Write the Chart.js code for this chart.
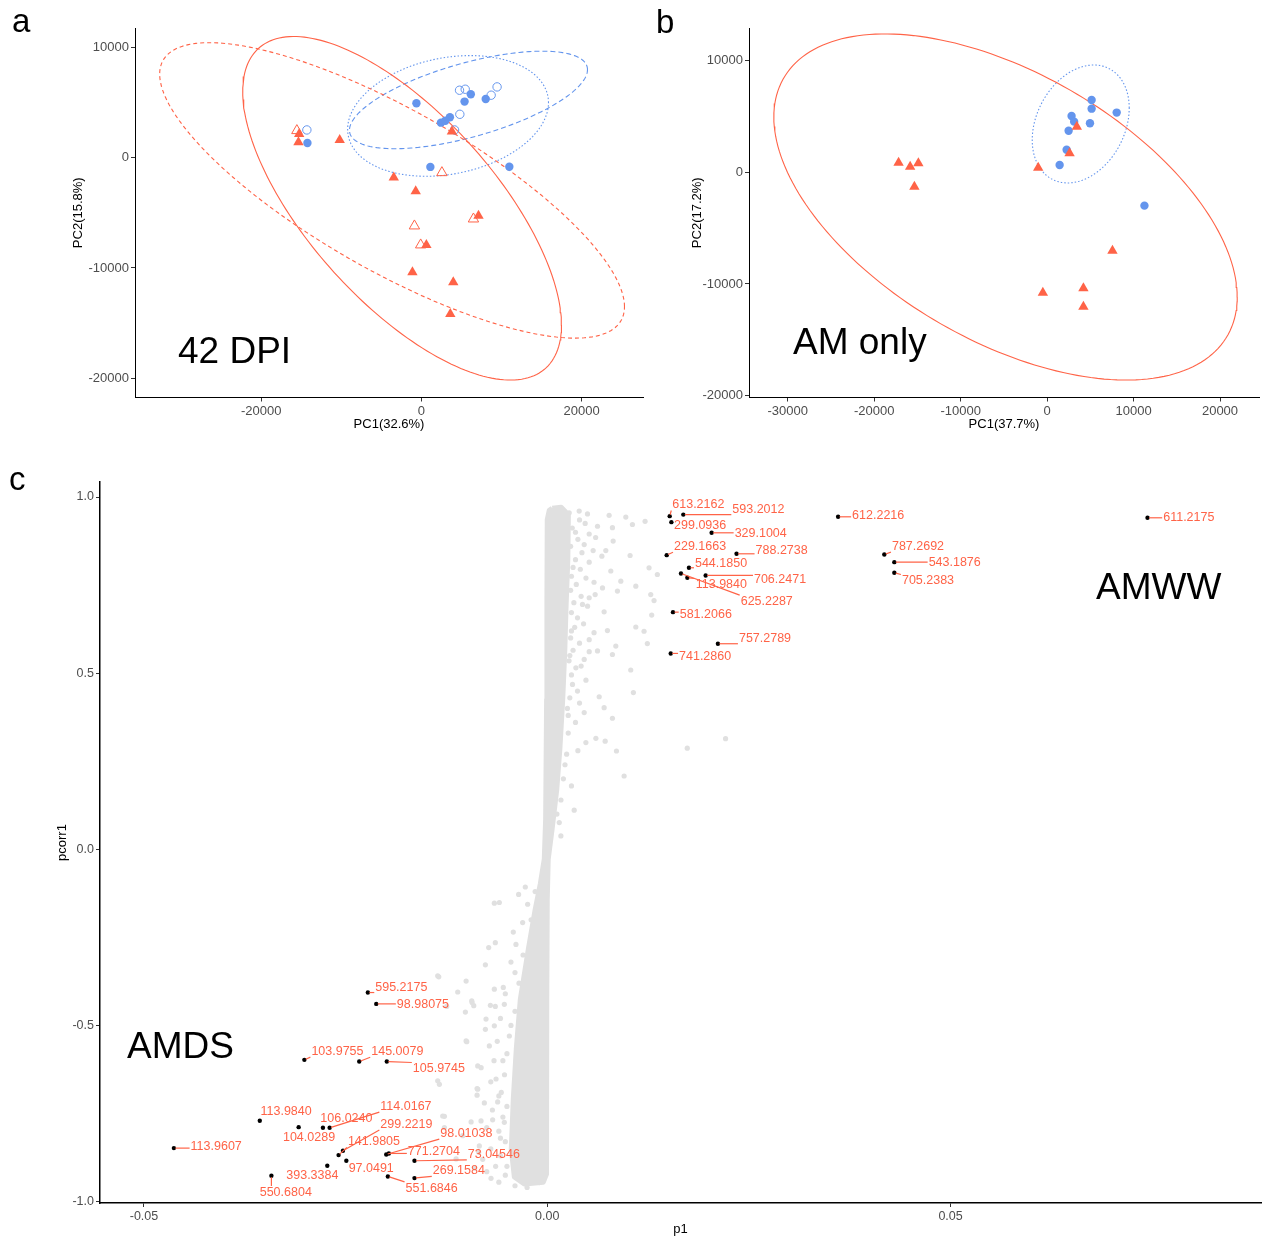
<!DOCTYPE html>
<html>
<head>
<meta charset="utf-8">
<script src="https://cdn.jsdelivr.net/npm/chart.js@4.4.1/dist/chart.umd.min.js"></script>
<style>
  html, body { margin: 0; padding: 0; background: #fff; }
  body { width: 1265px; height: 1236px; position: relative; overflow: hidden;
         font-family: "Liberation Sans", Arial, Helvetica, sans-serif; }
  canvas { position: absolute; }
  .tag  { position: absolute; font-size: 33px; line-height: 1; color: #000; }
  .note { position: absolute; font-size: 37px; line-height: 1; color: #000; white-space: nowrap; }
</style>
</head>
<body>
<canvas id="pa" width="650" height="440" style="left:0;top:0"></canvas>
<canvas id="pb" width="615" height="440" style="left:650px;top:0"></canvas>
<canvas id="pc" width="1265" height="776" style="left:0;top:460px"></canvas>

<div class="tag" style="left:12px;top:4px">a</div>
<div class="tag" style="left:656px;top:5px">b</div>
<div class="tag" style="left:9px;top:462px">c</div>
<div class="note" style="left:178px;top:332px">42 DPI</div>
<div class="note" style="left:793px;top:323px">AM only</div>
<div class="note" style="left:1096px;top:568px">AMWW</div>
<div class="note" style="left:127px;top:1027px">AMDS</div>

<script>
// ---------- panel a: PCA scores, 42 DPI ----------
const pcaTicksA_x = [-20000, 0, 20000];
const pcaTicksA_y = [-20000, -10000, 0, 10000];
const a_blueFilled = [[-620,4930],[5390,5080],[6170,5750],[8030,5320],[3560,3660],[2440,3170],[2990,3350],[-14230,1330],[1120,-840],[10980,-820]];
const a_blueOpen   = [[4760,6110],[5470,6200],[9450,6410],[8710,5660],[4800,3930],[-14300,2510],[4140,2510]];
const a_redFilled  = [[-15260,2150],[-15350,1400],[-10200,1600],[3810,2360],[-3450,-1810],[-710,-3050],[7130,-5260],[620,-7910],[-1120,-10390],[3980,-11300],[3610,-14170]];
const a_redOpen    = [[-15550,2450],[2560,-1360],[6500,-5560],[-870,-6190],[-90,-7910]];
// ellipses: centre x, centre y, half-width x, half-height y, correlation
const a_ellRedSolid  = [-2410, -4590, 19900, 15570, -0.68];
const a_ellRedDash   = [-3660, -2970, 29020, 13390, -0.787];
const a_ellBlueDash  = [5880, 5230, 14860, 4420, 0.62];
const a_ellBlueDot   = [3330, 3780, 12540, 5470, 0.22];

// ---------- panel b: PCA scores, AM only ----------
const pcaTicksB_x = [-30000, -20000, -10000, 0, 10000, 20000];
const pcaTicksB_y = [-20000, -10000, 0, 10000];
const b_blue = [[5150,6470],[5150,5690],[8050,5340],[2830,5040],[3130,4530],[4960,4390],[2490,3720],[2260,2020],[1450,650],[11260,-2990]];
const b_red  = [[3440,4080],[2600,1700],[-1030,410],[-17180,860],[-15840,500],[-14890,810],[-15350,-1290],[7560,-7020],[-490,-10780],[4200,-10380],[4200,-12030]];
const b_ellRed  = [-4810, -3110, 26800, 15490, -0.52];
const b_ellBlue = [3890, 4320, 5610, 5280, 0.27];

// ---------- panel c: S-plot (p1 vs pcorr1) ----------
const splotTicks_x = [-0.05, 0, 0.05];
const splotTicks_y = [-1, -0.5, 0, 0.5, 1];
// dense body of the S-plot, traced as an outline
const cloudCore = [[0.00062,0.968],[0.00173,0.971],[0.00262,0.950],[0.00255,0.823],[0.00232,0.681],[0.00218,0.567],
  [0.00192,0.426],[0.00156,0.284],[0.00118,0.170],[0.00060,0.057],[0.00012,-0.028],[0.0,-0.142],[-0.00006,-0.426],
  [-0.00006,-0.709],[-0.00012,-0.922],[-0.0005,-0.945],[-0.00285,-0.950],[-0.00408,-0.930],[-0.00446,-0.851],
  [-0.00421,-0.709],[-0.00384,-0.567],[-0.00334,-0.426],[-0.00235,-0.284],[-0.00149,-0.170],[-0.00087,-0.099],
  [-0.00037,-0.028],[-0.00020,0.085],[-0.00008,0.426],[-0.00004,0.709],[0.0,0.936],[0.00025,0.962],[0.00062,0.968]];
// scattered features outside the dense body
const cloudUpper = [[0.00272,0.955],[0.00396,0.960],[0.00499,0.952],[0.00767,0.948],[0.00974,0.943],[0.01213,0.931],
  [0.01056,0.922],[0.00623,0.917],[0.00808,0.913],[0.00817,0.875],[0.00569,0.848],[0.00726,0.848],[0.01027,0.834],
  [0.00458,0.865],[0.00677,0.832],[0.01262,0.799],[0.01365,0.780],[0.00788,0.790],[0.00912,0.761],[0.01098,0.747],
  [0.00870,0.733],[0.01283,0.723],[0.01324,0.706],[0.00685,0.742],[0.00594,0.723],[0.00705,0.674],[0.01295,0.665],
  [0.01098,0.631],[0.01200,0.619],[0.00746,0.621],[0.01241,0.584],[0.00850,0.577],[0.00623,0.563],[0.00808,0.553],
  [0.01035,0.509],[0.01068,0.445],[0.00644,0.433],[0.00705,0.402],[0.00808,0.372],[0.00458,0.388],[0.00479,0.303],
  [0.00603,0.315],[0.00718,0.307],[0.00858,0.279],[0.00953,0.208],[0.01736,0.287],[0.02211,0.314],[0.00520,0.714],
  [0.00437,0.695],[0.00375,0.657],[0.00520,0.561],[0.00458,0.539],[0.00313,0.468],[0.00375,0.449],[0.00355,0.515],
  [0.0035,0.900],[0.0032,0.800],[0.0030,0.620],[0.0028,0.550],[0.0026,0.380],[0.0022,0.240],
  [0.0040,0.935],[0.0047,0.925],[0.0031,0.912],[0.0052,0.895],[0.0038,0.880],[0.0060,0.885],[0.0029,0.860],
  [0.0043,0.842],[0.0035,0.822],[0.0052,0.815],[0.0041,0.795],[0.0030,0.775],[0.0048,0.770],[0.0036,0.752],
  [0.0058,0.758],[0.0029,0.735],[0.0042,0.718],[0.0033,0.700],[0.0050,0.690],[0.0030,0.672],[0.0045,0.640],
  [0.0034,0.630],[0.0058,0.615],[0.0029,0.600],[0.0040,0.585],[0.0052,0.595],[0.0032,0.565],[0.0027,0.535],
  [0.0042,0.520],[0.0030,0.495],[0.0048,0.480],[0.0028,0.430],[0.0040,0.415],[0.0025,0.400],[0.0035,0.360],
  [0.0026,0.330],[0.0038,0.280],[0.0024,0.270],[0.0020,0.200],[0.0030,0.180],[0.0017,0.140],[0.0012,0.100]];
const cloudLower = [[0.00334,0.111],[0.00149,0.076],[0.00169,0.038],[-0.00272,-0.107],[-0.00355,-0.128],[-0.00656,-0.153],
  [-0.00594,-0.151],[-0.00243,-0.156],[-0.00305,-0.208],[-0.00421,-0.235],[-0.00644,-0.265],[-0.00726,-0.279],
  [-0.00388,-0.270],[-0.00767,-0.328],[-0.01345,-0.362],[-0.01006,-0.374],[-0.01110,-0.405],[-0.00936,-0.430],
  [-0.00911,-0.444],[-0.01015,-0.462],[-0.01246,-0.446],[-0.00705,-0.443],[-0.00644,-0.446],[-0.00532,-0.440],
  [-0.00656,-0.397],[-0.00545,-0.392],[-0.00759,-0.482],[-0.00767,-0.511],[-0.00656,-0.501],[-0.00998,-0.546],
  [-0.00718,-0.558],[-0.00862,-0.615],[-0.01358,-0.657],[-0.01337,-0.667],[-0.00870,-0.679],[-0.00635,-0.652],
  [-0.00870,-0.698],[-0.00615,-0.717],[-0.01275,-0.758],[-0.00944,-0.774],[-0.00821,-0.771],[-0.00677,-0.768],
  [-0.01130,-0.879],[-0.00697,-0.934],[-0.00099,-0.946],[-0.00532,-0.775],[-0.01048,-0.813],[-0.00842,-0.842],
  [-0.01358,-0.359],[-0.00932,-0.435],[-0.01006,-0.544],[-0.00862,-0.681],[-0.01296,-0.757],[-0.01275,-0.790],
  [-0.0055,-0.600],[-0.0060,-0.700],[-0.0058,-0.820],[-0.0050,-0.900],[-0.0045,-0.500],[-0.0040,-0.350],
  [-0.0030,-0.300],[-0.0045,-0.320],[-0.0035,-0.380],[-0.0052,-0.410],[-0.0040,-0.460],[-0.0058,-0.480],
  [-0.0047,-0.530],[-0.0062,-0.545],[-0.0050,-0.580],[-0.0066,-0.600],[-0.0053,-0.640],[-0.0070,-0.660],
  [-0.0057,-0.690],[-0.0050,-0.730],[-0.0068,-0.740],[-0.0055,-0.760],[-0.0075,-0.790],[-0.0060,-0.800],
  [-0.0052,-0.830],[-0.0070,-0.850],[-0.0058,-0.870],[-0.0080,-0.880],[-0.0064,-0.900],[-0.0052,-0.925],
  [-0.0075,-0.915],[-0.0060,-0.945],[-0.0040,-0.955],[-0.0025,-0.960],[-0.0090,-0.905],[-0.0085,-0.860],
  [-0.0078,-0.720],[-0.0082,-0.620],[-0.0020,-0.200],[-0.0015,-0.120]];
// annotated features: m/z, p1, pcorr1
const featureNames = ['613.2162','593.2012','299.0936','329.1004','229.1663','788.2738','544.1850','625.2287','113.9840',
  '706.2471','581.2066','757.2789','741.2860','612.2216','787.2692','543.1876','705.2383','611.2175',
  '595.2175','98.98075','103.9755','145.0079','105.9745','113.9840','104.0289','106.0240','114.0167','299.2219',
  '141.9805','98.01038','771.2704','73.04546','97.0491','393.3384','550.6804','551.6846','269.1584','113.9607'];
const featureP1 = [0.01518,0.01687,0.01539,0.02038,0.01481,0.02347,0.01757,0.01658,0.01737,
  0.01964,0.01559,0.02116,0.01531,0.03606,0.04179,0.04303,0.04303,0.07442,
  -0.02224,-0.02120,-0.03011,-0.02331,-0.01989,-0.03564,-0.03082,-0.02781,-0.02698,-0.02533,
  -0.02587,-0.01996,-0.01964,-0.01646,-0.02491,-0.02727,-0.03420,-0.01976,-0.01646,-0.04629];
const featurePcorr = [0.9456,0.9500,0.9286,0.8984,0.8349,0.8388,0.7991,0.7830,0.7707,
  0.7773,0.6732,0.5835,0.5560,0.9438,0.8369,0.8151,0.7849,0.9410,
  -0.4066,-0.4388,-0.5977,-0.6023,-0.6023,-0.7707,-0.7887,-0.7905,-0.7905,-0.8558,
  -0.8681,-0.8662,-0.8633,-0.8842,-0.8842,-0.8983,-0.9267,-0.9286,-0.9333,-0.8482];
// repelled label placement (pixel offset of each label's left-middle from its point)
const labelNudge = [[2.6,-11.7],[49,-5.7],[2.7,3],[23,0],[7.3,-9],[19,-3.3],[6,-4.6],[59.7,27.7],[8.4,6.7],
  [48.3,4],[6.7,2.3],[21,-5.3],[8.3,2.7],[14,-1.3],[7.6,-8.3],[34.3,0.3],[7.6,7.7],[15.7,-1],
  [7.4,-5],[20.6,0.3],[7,-8.7],[12,-10.3],[26,7],[0.7,-9.7],[-15.7,10],[-2.6,-9.7],[50.7,-21.7],[37.4,-26.7],
  [9.3,-13.7],[54,-21.3],[19,-2.3],[53.3,-7],[2.3,7],[-41,9.3],[-11.7,16.3],[17.7,11.4],[18.3,-7.7],[16.7,-2]];

// ---------- drawing ----------
const FONT = '"Liberation Sans", Arial, Helvetica, sans-serif';
const RED = '#FF6347', BLUE = '#6495ED', GREY = '#E0E0E0';

const toXY = arr => arr.map(p => ({ x: p[0], y: p[1] }));

function ellipsePath(e) {
  const pts = [], n = 200, s = Math.sqrt(1 - e[4] * e[4]);
  for (let i = 0; i <= n; i++) {
    const t = i / n * 2 * Math.PI;
    pts.push({ x: e[0] + e[2] * Math.cos(t), y: e[1] + e[3] * (e[4] * Math.cos(t) + s * Math.sin(t)) });
  }
  return pts;
}

function ellipseSet(e, color, dash) {
  return { data: ellipsePath(e), showLine: true, borderColor: color, borderWidth: 1.1,
           borderDash: dash, pointRadius: 0, fill: false, tension: 0, order: 5 };
}

function markerSet(arr, style, color, open, radius) {
  return { data: toXY(arr), pointStyle: style, pointRadius: radius, pointHoverRadius: radius,
           backgroundColor: open ? 'rgba(255,255,255,0)' : color,
           borderColor: color, borderWidth: open ? 1 : 0, order: 1 };
}

function axis(o) {
  return {
    type: 'linear', min: o.min, max: o.max,
    afterBuildTicks: s => { s.ticks = o.ticks.map(v => ({ value: v })); },
    ticks: { callback: o.fmt, color: '#4D4D4D', font: { family: FONT, size: o.ts },
             padding: 2, maxRotation: 0, autoSkip: false },
    grid: { drawOnChartArea: false, drawTicks: true, tickLength: 4, tickColor: '#333', tickWidth: 1 },
    border: { display: true, color: '#000', width: o.bw },
    title: { display: true, text: o.title, color: '#000',
             font: { family: FONT, size: 13, lineHeight: o.lh || 1.2 }, padding: o.tp },
    afterFit: s => {
      if (o.w !== undefined) s.width = o.w;
      if (o.h !== undefined) s.height = o.h;
      s.paddingLeft = 0; s.paddingRight = 0; s.paddingTop = 0; s.paddingBottom = 0;
    }
  };
}

const baseOpts = {
  responsive: false, animation: false, devicePixelRatio: 1,
  plugins: { legend: { display: false }, tooltip: { enabled: false } },
  events: []
};

const fmtInt = v => String(v);

// panel a
new Chart(document.getElementById('pa'), {
  type: 'scatter',
  data: { datasets: [
    markerSet(a_redFilled, 'triangle', RED, false, 6),
    markerSet(a_redOpen, 'triangle', RED, true, 6),
    markerSet(a_blueFilled, 'circle', BLUE, false, 4.2),
    markerSet(a_blueOpen, 'circle', BLUE, true, 4.2),
    ellipseSet(a_ellRedSolid, RED, []),
    ellipseSet(a_ellRedDash, RED, [4, 3]),
    ellipseSet(a_ellBlueDash, BLUE, [5, 3]),
    ellipseSet(a_ellBlueDot, BLUE, [1.5, 2])
  ]},
  options: Object.assign({}, baseOpts, {
    layout: { padding: { left: 0, top: 28, right: 5, bottom: 0 } },
    scales: {
      x: axis({ min: -35760, max: 27670, ticks: pcaTicksA_x, fmt: fmtInt, ts: 13, bw: 1,
                title: 'PC1(32.6%)', tp: { top: 0, bottom: 8.2 }, h: 42.5 }),
      y: axis({ min: -21740, max: 11750, ticks: pcaTicksA_y, fmt: fmtInt, ts: 13, bw: 1,
                title: 'PC2(15.8%)', tp: { top: 70.2, bottom: 0 }, w: 135 })
    }
  })
});

// panel b
new Chart(document.getElementById('pb'), {
  type: 'scatter',
  data: { datasets: [
    markerSet(b_red, 'triangle', RED, false, 6),
    markerSet(b_blue, 'circle', BLUE, false, 4.2),
    ellipseSet(b_ellRed, RED, []),
    ellipseSet(b_ellBlue, BLUE, [1.5, 2])
  ]},
  options: Object.assign({}, baseOpts, {
    layout: { padding: { left: 0, top: 28, right: 1, bottom: 0 } },
    scales: {
      x: axis({ min: -34480, max: 24510, ticks: pcaTicksB_x, fmt: fmtInt, ts: 13, bw: 1,
                title: 'PC1(37.7%)', tp: { top: 0, bottom: 8.2 }, h: 42.5 }),
      y: axis({ min: -20160, max: 12910, ticks: pcaTicksB_y, fmt: fmtInt, ts: 13, bw: 1,
                title: 'PC2(17.2%)', tp: { top: 39.2, bottom: 0 }, w: 99 })
    }
  })
});

// labels with leader segments for the annotated features
const repelLabels = {
  id: 'repelLabels',
  afterDatasetsDraw(chart) {
    const { ctx, scales: { x, y } } = chart;
    ctx.save();
    ctx.font = '12.5px ' + FONT;
    ctx.textBaseline = 'middle';
    ctx.textAlign = 'left';
    featureNames.forEach((name, i) => {
      const px = x.getPixelForValue(featureP1[i]);
      const py = y.getPixelForValue(featurePcorr[i]);
      const lx = px + labelNudge[i][0];
      const ly = py + labelNudge[i][1];
      const w = ctx.measureText(name).width;
      const qx = Math.min(Math.max(px, lx - 1), lx + w + 1);
      const qy = Math.min(Math.max(py, ly - 6), ly + 6);
      const d = Math.hypot(qx - px, qy - py);
      if (d > 4) {
        const ux = (qx - px) / d, uy = (qy - py) / d;
        ctx.strokeStyle = RED;
        ctx.lineWidth = 1.2;
        ctx.beginPath();
        ctx.moveTo(px + ux * 1.5, py + uy * 1.5);
        ctx.lineTo(qx, qy);
        ctx.stroke();
      }
      ctx.fillStyle = RED;
      ctx.fillText(name, lx, ly + 0.5);
    });
    ctx.restore();
  }
};

// panel c
new Chart(document.getElementById('pc'), {
  type: 'scatter',
  data: { datasets: [
    { data: toXY(featureP1.map((v, i) => [v, featurePcorr[i]])), pointRadius: 2.2, pointHoverRadius: 2.2,
      backgroundColor: '#000', borderWidth: 0, order: 1 },
    { data: toXY(cloudUpper), pointRadius: 2.6, backgroundColor: GREY, borderWidth: 0, order: 3 },
    { data: toXY(cloudLower), pointRadius: 2.6, backgroundColor: GREY, borderWidth: 0, order: 3 },
    { data: toXY(cloudCore), showLine: true, fill: 'shape', backgroundColor: GREY, borderColor: GREY,
      borderWidth: 5, borderJoinStyle: 'round', pointRadius: 0, tension: 0, order: 4 }
  ]},
  options: Object.assign({}, baseOpts, {
    layout: { padding: { left: 0, top: 22, right: 2, bottom: 0 } },
    scales: {
      x: axis({ min: -0.05545, max: 0.08849, ticks: splotTicks_x, fmt: v => v.toFixed(2), ts: 12.5, bw: 1.5,
                title: 'p1', tp: { top: 0, bottom: 0.5 }, lh: 1, h: 33 }),
      y: axis({ min: -1.004, max: 1.0426, ticks: splotTicks_y, fmt: v => v.toFixed(1), ts: 12.5, bw: 1.5,
                title: 'pcorr1', tp: { top: 54.2, bottom: 0 }, w: 100 })
    }
  }),
  plugins: [repelLabels]
});
</script>
</body>
</html>
